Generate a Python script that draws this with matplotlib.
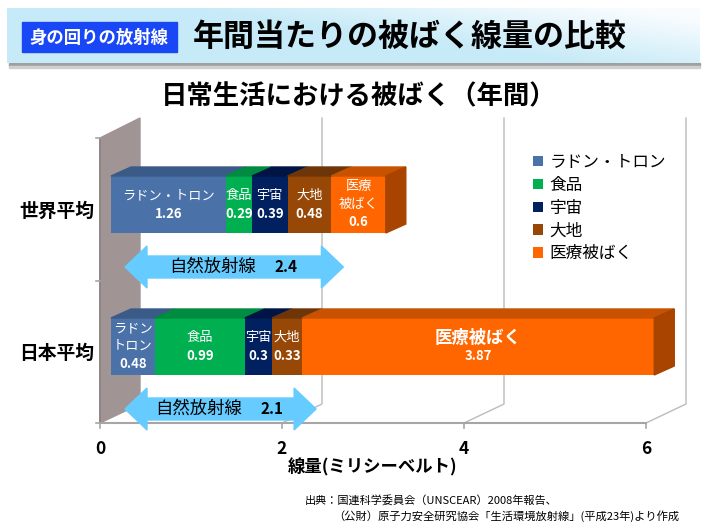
import numpy as np
import matplotlib
matplotlib.use("Agg")
import matplotlib.pyplot as plt
import matplotlib.patches as mpatches

plt.rcParams['font.family'] = ['Noto Sans CJK JP', 'DejaVu Sans']

# data
categories = ["世界平均", "日本平均"]
sources = ["ラドン・トロン", "食品", "宇宙", "大地", "医療被ばく"]
world = [1.26, 0.29, 0.39, 0.48, 0.6]
japan = [0.48, 0.99, 0.3, 0.33, 3.87]
natural = [2.4, 2.1]
x_ticks = [0, 2, 4, 6]
world_labels = [["ラドン・トロン"], ["食品"], ["宇宙"], ["大地"], ["医療", "被ばく"]]
japan_labels = [["ラドン", "トロン"], ["食品"], ["宇宙"], ["大地"], ["医療被ばく"]]

front_colors = ["#4A72A8", "#00B050", "#002060", "#974806", "#FF6600"]
top_colors = ["#3A5B88", "#008C40", "#001545", "#6E3608", "#C85200"]
side_color = "#A84400"

W, H = 707, 529
PX = 91.0        # pixels per mSv
X0 = 100         # pixel of x = 0

fig = plt.figure(figsize=(W / 100, H / 100), dpi=100)

# background axes in pixel units (banner, titles, source)
bg = fig.add_axes([0, 0, 1, 1])
bg.set_xlim(0, W)
bg.set_ylim(H, 0)
bg.axis("off")

# banner gradient
gx = np.linspace(0, 1, 300)
gy = np.linspace(0, 1, 60)
GX, GY = np.meshgrid(gx, gy)
t = np.clip((GX - 0.55) * 1.6 + (0.5 - GY) * 0.9, 0, 1)
c0 = np.array([0.78, 0.92, 0.97])
c1 = np.array([0.98, 0.99, 1.0])
img = c0[None, None, :] * (1 - t[..., None]) + c1[None, None, :] * t[..., None]
bg.imshow(img, extent=(7, 700, 63, 8), aspect="auto", zorder=1)
bg.add_patch(mpatches.Rectangle((9, 63), 691, 3, color="#A0A0A0", zorder=0))
bg.add_patch(mpatches.Rectangle((9, 66), 691, 2, color="#D0D0D0", zorder=0))
bg.add_patch(mpatches.Rectangle((22, 22), 155, 30, color="#1A47F5", zorder=2))
bg.text(99, 37.5, "身の回りの放射線", color="white", fontsize=12.5, fontweight="bold",
        ha="center", va="center", zorder=3)
bg.text(193, 37, "年間当たりの被ばく線量の比較", color="black", fontsize=22.3,
        fontweight="bold", ha="left", va="center", zorder=3)
bg.text(359, 97, "日常生活における被ばく（年間）", fontsize=19, fontweight="bold",
        ha="center", va="center")
bg.text(305, 500, "出典：国連科学委員会（UNSCEAR）2008年報告、", fontsize=8,
        ha="left", va="center")
bg.text(333, 516, "（公財）原子力安全研究協会「生活環境放射線」(平成23年)より作成",
        fontsize=8.1, ha="left", va="center")

# main chart axes: x in mSv, y in pixels
ax = fig.add_axes([0, 0, 1, 1])
ax.set_xlim(-X0 / PX, (W - X0) / PX)
ax.set_ylim(H, 0)
ax.axis("off")
ax.patch.set_alpha(0)

floor_y, back_floor_y, back_top_y, front_top_y = 423, 404, 118, 138
dxw = 40 / PX
cat_y = [211, 353]

# side wall
ax.add_patch(mpatches.Polygon([(0, floor_y), (dxw, back_floor_y), (dxw, back_top_y), (0, front_top_y)],
                              closed=True, color="#A09494", zorder=1))
# gridlines
for xt in x_ticks[1:]:
    ax.plot([xt, xt + dxw, xt + dxw], [floor_y, back_floor_y, back_top_y], color="#BBBBBB", lw=1, zorder=1)
# axes lines + ticks
ax.plot([0, x_ticks[-1]], [floor_y, floor_y], color="#A6A6A6", lw=1.5, zorder=2)
ax.plot([0, 0], [front_top_y, floor_y], color="#8C8080", lw=1.2, zorder=2)
for xt in x_ticks:
    ax.plot([xt, xt], [floor_y, floor_y + 5], color="#A6A6A6", lw=1.2, zorder=2)
    ax.text(xt, 449, str(xt), fontsize=12.5, fontweight="bold", ha="center", va="center")
for yt in [front_top_y, (front_top_y + floor_y) / 2, floor_y]:
    ax.plot([-4 / PX, 0], [yt, yt], color="#A6A6A6", lw=1.2, zorder=2)
for cy, name in zip(cat_y, categories):
    ax.text(-6 / PX, cy, name, fontsize=13.5, fontweight="bold", ha="right", va="center")
ax.text(3, 467, "線量(ミリシーベルト)", fontsize=12.5, fontweight="bold", ha="center", va="center")

# 3d bars
shift = 11 / PX
dxb, dyb = 20 / PX, 9
bh = 57
handles = None
for vals, labels, cy in zip([world, japan], [world_labels, japan_labels], cat_y):
    vals = np.array(vals)
    left = shift + np.concatenate([[0], np.cumsum(vals)[:-1]])
    yc = cy - 6.5
    bars = ax.barh([yc] * len(vals), vals, height=bh, left=left, color=front_colors, zorder=3)
    if handles is None:
        handles = bars.patches
    top = yc - bh / 2
    for l, v, c in zip(left, vals, top_colors):
        ax.add_patch(mpatches.Polygon([(l, top), (l + dxb, top - dyb), (l + v + dxb, top - dyb), (l + v, top)],
                                      closed=True, color=c, zorder=3))
    r = left[-1] + vals[-1]
    ax.add_patch(mpatches.Polygon([(r, top), (r + dxb, top - dyb), (r + dxb, top + bh - dyb), (r, top + bh)],
                                  closed=True, color=side_color, zorder=3))
    # segment labels
    for l, v, lines in zip(left, vals, labels):
        xc = l + v / 2
        big = lines == ["医療被ばく"]
        n = len(lines) + 1
        step = 18
        y_first = yc - step * (n - 1) / 2
        for k, s in enumerate(lines):
            ax.text(xc, y_first + k * step, s, color="white", fontsize=12.5 if big else 9.5,
                    fontweight="bold" if big else "normal", ha="center", va="center", zorder=5)
        ax.text(xc, y_first + (n - 1) * step, f"{v:g}", color="white", fontsize=9.5,
                fontweight="bold", ha="center", va="center", zorder=5)

# natural radiation arrows
for nat, cy in zip(natural, cat_y):
    ya = cy + 56
    xl = 25 / PX
    xr = xl + nat
    hl, b, hh = 22 / PX, 11, 21
    pts = [(xl, ya), (xl + hl, ya - hh), (xl + hl, ya - b), (xr - hl, ya - b), (xr - hl, ya - hh),
           (xr, ya), (xr - hl, ya + hh), (xr - hl, ya + b), (xl + hl, ya + b), (xl + hl, ya + hh)]
    ax.add_patch(mpatches.Polygon(pts, closed=True, color="#66CCFF", zorder=6))
    xm = (xl + xr) / 2
    ax.text(xm + 22 / PX, ya, "自然放射線", fontsize=12.5, ha="right", va="center", zorder=7)
    ax.text(xm + 40 / PX, ya, f"{nat}", fontsize=11, fontweight="bold", ha="left", va="center", zorder=7)

ax.legend(handles, sources, loc="upper left", bbox_to_anchor=(533 / W, 1 - 154 / H),
          bbox_transform=fig.transFigure, frameon=False, fontsize=12, handlelength=0.6,
          handleheight=0.6, handletextpad=0.4, labelspacing=0.35, borderpad=0, borderaxespad=0)

fig.savefig("out.png", dpi=100)
